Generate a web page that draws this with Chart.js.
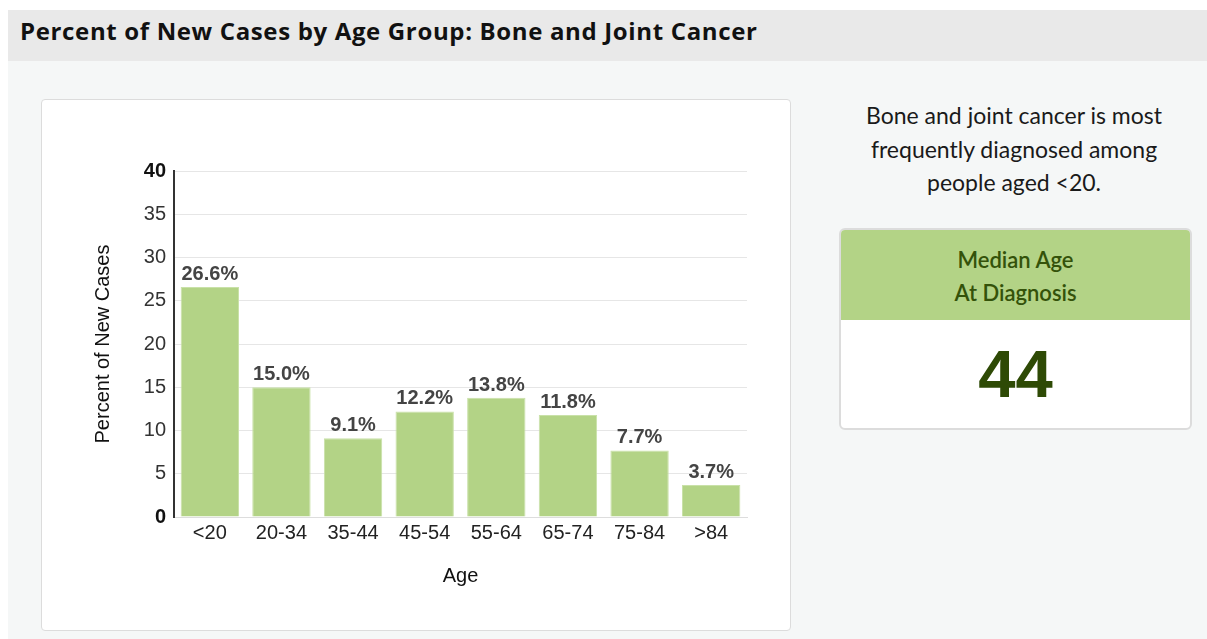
<!DOCTYPE html>
<html>
<head>
<meta charset="utf-8">
<script src="https://cdn.jsdelivr.net/npm/chart.js@4.4.1/dist/chart.umd.min.js"></script>
<style>
  html, body { margin: 0; padding: 0; background: #ffffff; }
  body { width: 1207px; height: 639px; position: relative; overflow: hidden; font-family: Lato, "Open Sans", sans-serif; }
  .page { position: absolute; left: 8px; top: 10px; width: 1199px; height: 629px; background: #f5f7f7; }
  .header { position: absolute; left: 0; top: 0; width: 1199px; height: 51px; background: #e9e9e9; }
  .header h1 { margin: 0; position: absolute; left: 12px; top: 4px; font-family: "Open Sans", sans-serif; font-size: 24px; font-weight: 700; color: #111; white-space: nowrap; letter-spacing: 0.65px; }
  .card { position: absolute; left: 33px; top: 89px; width: 748px; height: 530px; background: #fff; border: 1px solid #dcdcdc; border-radius: 4px; }
  .card canvas { position: absolute; left: 0; top: 0; }
  .note { position: absolute; left: 831px; top: 89px; width: 350px; text-align: center; font-size: 23px; line-height: 33.5px; color: #1a1a1a; }
  .median { position: absolute; left: 831px; top: 218px; width: 349px; height: 198px; background: #fff; border: 2px solid #dcdcdc; border-radius: 6px; overflow: hidden; }
  .median .top { height: 90px; background: #b3d386; color: #34520a; font-size: 22px; line-height: 33px; text-align: center; padding-top: 13px; box-sizing: border-box; font-weight: 600; }
  .median .num { text-align: center; font-family: "Liberation Sans", Arial, sans-serif; font-weight: 700; font-size: 67px; color: #2e4a05; line-height: 108px; }
</style>
</head>
<body>
<div class="page">
  <div class="header"><h1>Percent of New Cases by Age Group: Bone and Joint Cancer</h1></div>
  <div class="card"><canvas id="chart" width="748" height="530"></canvas></div>
  <div class="note">Bone and joint cancer is most<br>frequently diagnosed among<br>people aged &lt;20.</div>
  <div class="median">
    <div class="top">Median Age<br>At Diagnosis</div>
    <div class="num">44</div>
  </div>
</div>
<script>
// Age groups and share of new cases (%)
const ageGroups = ['<20', '20-34', '35-44', '45-54', '55-64', '65-74', '75-84', '>84'];
const percentNewCases = [26.6, 15.0, 9.1, 12.2, 13.8, 11.8, 7.7, 3.7];
const yTicks = [0, 5, 10, 15, 20, 25, 30, 35, 40];

const barColor = '#b3d386';
const axisFont = "'Liberation Sans', Arial, sans-serif";
const isEdgeTick = (c) => c.tick && (c.tick.value === 0 || c.tick.value === 40);

// Writes the percentage above each bar
const valueLabels = {
  id: 'valueLabels',
  afterDatasetsDraw(chart) {
    const ctx = chart.ctx;
    const meta = chart.getDatasetMeta(0);
    ctx.save();
    ctx.font = 'bold 20px ' + axisFont;
    ctx.fillStyle = '#444444';
    ctx.textAlign = 'center';
    ctx.textBaseline = 'alphabetic';
    meta.data.forEach((bar, i) => {
      const v = chart.data.datasets[0].data[i];
      ctx.fillText(v.toFixed(1) + '%', bar.x, bar.y - 7);
    });
    ctx.restore();
  }
};

new Chart(document.getElementById('chart'), {
  type: 'bar',
  data: {
    labels: ageGroups,
    datasets: [{
      data: percentNewCases,
      backgroundColor: barColor,
      borderColor: '#c9e1a8',
      borderWidth: 1,
      categoryPercentage: 1.0,
      barPercentage: 0.815
    }]
  },
  options: {
    responsive: false,
    animation: false,
    layout: { padding: { left: 48, top: 71, right: 43, bottom: 42 } },
    plugins: { legend: { display: false }, tooltip: { enabled: false } },
    scales: {
      x: {
        grid: { display: false, drawTicks: false },
        border: { display: true, color: '#dddddd', width: 1 },
        ticks: { color: '#222', padding: 4, font: { family: axisFont, size: 20 } },
        title: { display: true, text: 'Age', color: '#111', font: { family: axisFont, size: 20 }, padding: { top: 0, bottom: 0 } },
        afterFit(scale) { scale.height = 71; }
      },
      y: {
        min: 0, max: 40,
        afterBuildTicks(scale) { scale.ticks = yTicks.map(v => ({ value: v })); },
        grid: { color: '#e6e6e6', drawTicks: false },
        border: { display: true, color: '#333333', width: 2 },
        ticks: {
          padding: 8,
          color: (c) => isEdgeTick(c) ? '#111' : '#333',
          font: (c) => ({ family: axisFont, size: 20, weight: isEdgeTick(c) ? 'bold' : 'normal' })
        },
        title: { display: true, text: 'Percent of New Cases', color: '#111', font: { family: axisFont, size: 20 }, padding: { top: 1, bottom: 0 } },
        afterFit(scale) { scale.width = 84; }
      }
    }
  },
  plugins: [valueLabels]
});
</script>
</body>
</html>
